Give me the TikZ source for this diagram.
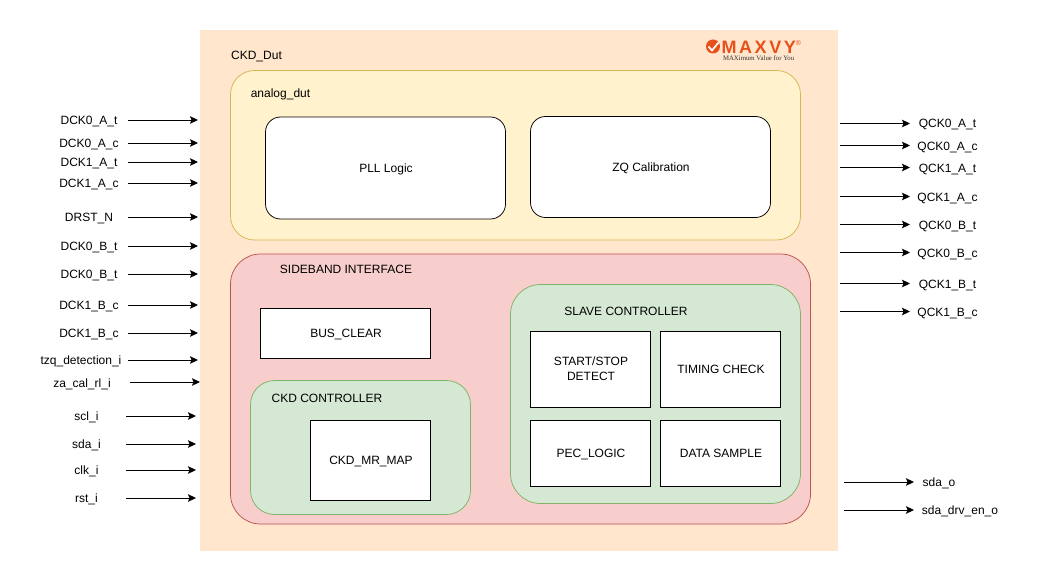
\documentclass[tikz,border=0pt]{standalone}
\usepackage{fontspec}
\setmainfont{Liberation Sans}
\newfontfamily\logoserif{Liberation Serif}
\definecolor{dutfill}{HTML}{FFE6CC}
\definecolor{analogfill}{HTML}{FFF2CC}
\definecolor{analogline}{HTML}{D6B656}
\definecolor{sbfill}{HTML}{F8CECC}
\definecolor{sbline}{HTML}{B85450}
\definecolor{ctlfill}{HTML}{D5E8D4}
\definecolor{ctlline}{HTML}{82B366}
\definecolor{logoorange}{HTML}{E8501A}
\newcommand{\lowered}[2][4.5pt]{\kern1pt\raisebox{-#1}[0pt][0pt]{#2}}
\usetikzlibrary{arrows.meta}
\tikzset{
  x=1pt,y=-1pt,
  every node/.style={font=\fontsize{12}{15}\selectfont,inner sep=0pt,outer sep=0pt},
  panel/.style={draw=#1,line width=0.75pt,rounded corners=24pt},
  whitebox/.style={draw=black,fill=white,line width=0.75pt,align=center},
  roundbox/.style={whitebox,rounded corners=15pt},
  sig/.style={-{Stealth[length=8pt,width=7.5pt,inset=1.5pt]},line width=0.95pt,black},
  lbl/.style={anchor=center,yshift=-2.5pt}
}
\begin{document}
\begin{tikzpicture}
\useasboundingbox (0,0) rectangle (1039,580);
\node[fill=dutfill,minimum width=638pt,minimum height=521pt,anchor=north west] (dut) at (200,30) {};
\node[lbl] (dutlabel) at (256.5,54) {CKD\_Dut};

% logo
\node[circle,fill=logoorange,minimum size=14pt] (logoc) at (713,46.500) {};
\draw[white,line width=1.7pt] (708.5,46.5) -- (712,50.5) -- (718.5,42.5);
\node[anchor=west,text=logoorange,font=\fontsize{18}{18}\bfseries\selectfont] (logo) at (721.5,47) {M\kern2.6pt A\kern2.6pt X\kern2.6pt V\kern2.6pt Y};
\node[anchor=center,text=logoorange,font=\fontsize{7}{7}\selectfont] (logor) at (798.5,43.500) {®};
\node[anchor=west,text=black!80,font=\fontsize{6.8}{7}\logoserif\selectfont] (logotag) at (723,58) {MAXimum Value for You};

% analog
\path[panel=analogline,fill=analogfill] (230.5,70.5) rectangle (800.5,240);
\node[lbl] (analoglabel) at (280.5,92) {analog\_dut};
\node[roundbox,minimum width=240pt,minimum height=102pt] (pll) at (385.5,168) {\lowered{PLL Logic}};
\node[roundbox,minimum width=240pt,minimum height=101pt] (zq) at (650.5,167) {\lowered{ZQ Calibration}};

% sideband
\path[panel=sbline,fill=sbfill,rounded corners=30pt] (230.5,254) rectangle (810.5,524);
\node[lbl] (sblabel) at (346,267) {SIDEBAND INTERFACE};
\node[whitebox,minimum width=170pt,minimum height=50pt] (busclear) at (345.5,333.500) {\lowered[4pt]{BUS\_CLEAR}};

\path[panel=ctlline,fill=ctlfill] (250.5,380.5) rectangle (470.5,514.5);
\node[lbl] (ckdlabel) at (327,395.500) {CKD CONTROLLER};
\node[whitebox,minimum width=120pt,minimum height=80pt] (mrmap) at (370.5,460.500) {\lowered[4pt]{CKD\_MR\_MAP}};

\path[panel=ctlline,fill=ctlfill,rounded corners=30pt] (510.5,284.5) rectangle (800.5,503.5);
\node[lbl] (slavelabel) at (626,308.500) {SLAVE CONTROLLER};
\node[whitebox,minimum width=120pt,minimum height=76pt] (startstop) at (590.5,369) {\kern1pt START/STOP\\\kern1pt DETECT};
\node[whitebox,minimum width=120pt,minimum height=76pt] (timing) at (720.5,369) {\lowered{TIMING CHECK}};
\node[whitebox,minimum width=120pt,minimum height=66pt] (pec) at (590.5,453) {\lowered{PEC\_LOGIC}};
\node[whitebox,minimum width=120pt,minimum height=66pt] (sample) at (720.5,453) {\lowered{DATA SAMPLE}};

% left inputs: name / text / label x / label y / start x / end x / arrow y
\foreach \n/\t/\lx/\ly/\sx/\ex/\ay in {
 a/DCK0\_A\_t/89/119/128/198/120,
 b/DCK0\_A\_c/89/142/128/198/143,
 c/DCK1\_A\_t/89/161/128/198/162,
 d/DCK1\_A\_c/89/182/128/198/183,
 e/DRST\_N/89/216/128/198/217,
 f/DCK0\_B\_t/89/245/128/198/246,
 g/DCK0\_B\_t/89/273/128/198/274,
 h/DCK1\_B\_c/89/304/128/198/305,
 i/DCK1\_B\_c/89/332/128/198/333,
 j/tzq\_detection\_i/81/359/128/198/360,
 k/za\_cal\_rl\_i/82/382/130/200/382,
 l/scl\_i/86.5/415/126/196/416,
 m/sda\_i/86.5/443/126/196/444,
 n/clk\_i/86.5/469/126/196/470,
 o/rst\_i/86.5/497/126/196/498}{
  \node[lbl] (in\n) at (\lx,\ly) {\t};
  \coordinate (ins\n) at (\sx,\ay);
  \coordinate (ine\n) at (\ex,\ay);
  \draw[sig] (ins\n) -- (ine\n);
}

% right outputs
\foreach \n/\t/\lx/\ly/\sx/\ex/\ay in {
 a/QCK0\_A\_t/947.5/122/840/910/123.5,
 b/QCK0\_A\_c/947.5/145/840/910/145.5,
 c/QCK1\_A\_t/947.5/167/840/910/167.5,
 d/QCK1\_A\_c/947.5/196/840/910/196.5,
 e/QCK0\_B\_t/947.5/224/840/910/224.5,
 f/QCK0\_B\_c/947.5/252/840/910/252.5,
 g/QCK1\_B\_t/947.5/283/840/910/283.5,
 h/QCK1\_B\_c/947.5/311/840/910/311.5,
 i/sda\_o/939/481/844/914/482,
 j/sda\_drv\_en\_o/960/509/844/914/510}{
  \node[lbl] (out\n) at (\lx,\ly) {\t};
  \coordinate (outs\n) at (\sx,\ay);
  \coordinate (oute\n) at (\ex,\ay);
  \draw[sig] (outs\n) -- (oute\n);
}
\end{tikzpicture}
\end{document}
